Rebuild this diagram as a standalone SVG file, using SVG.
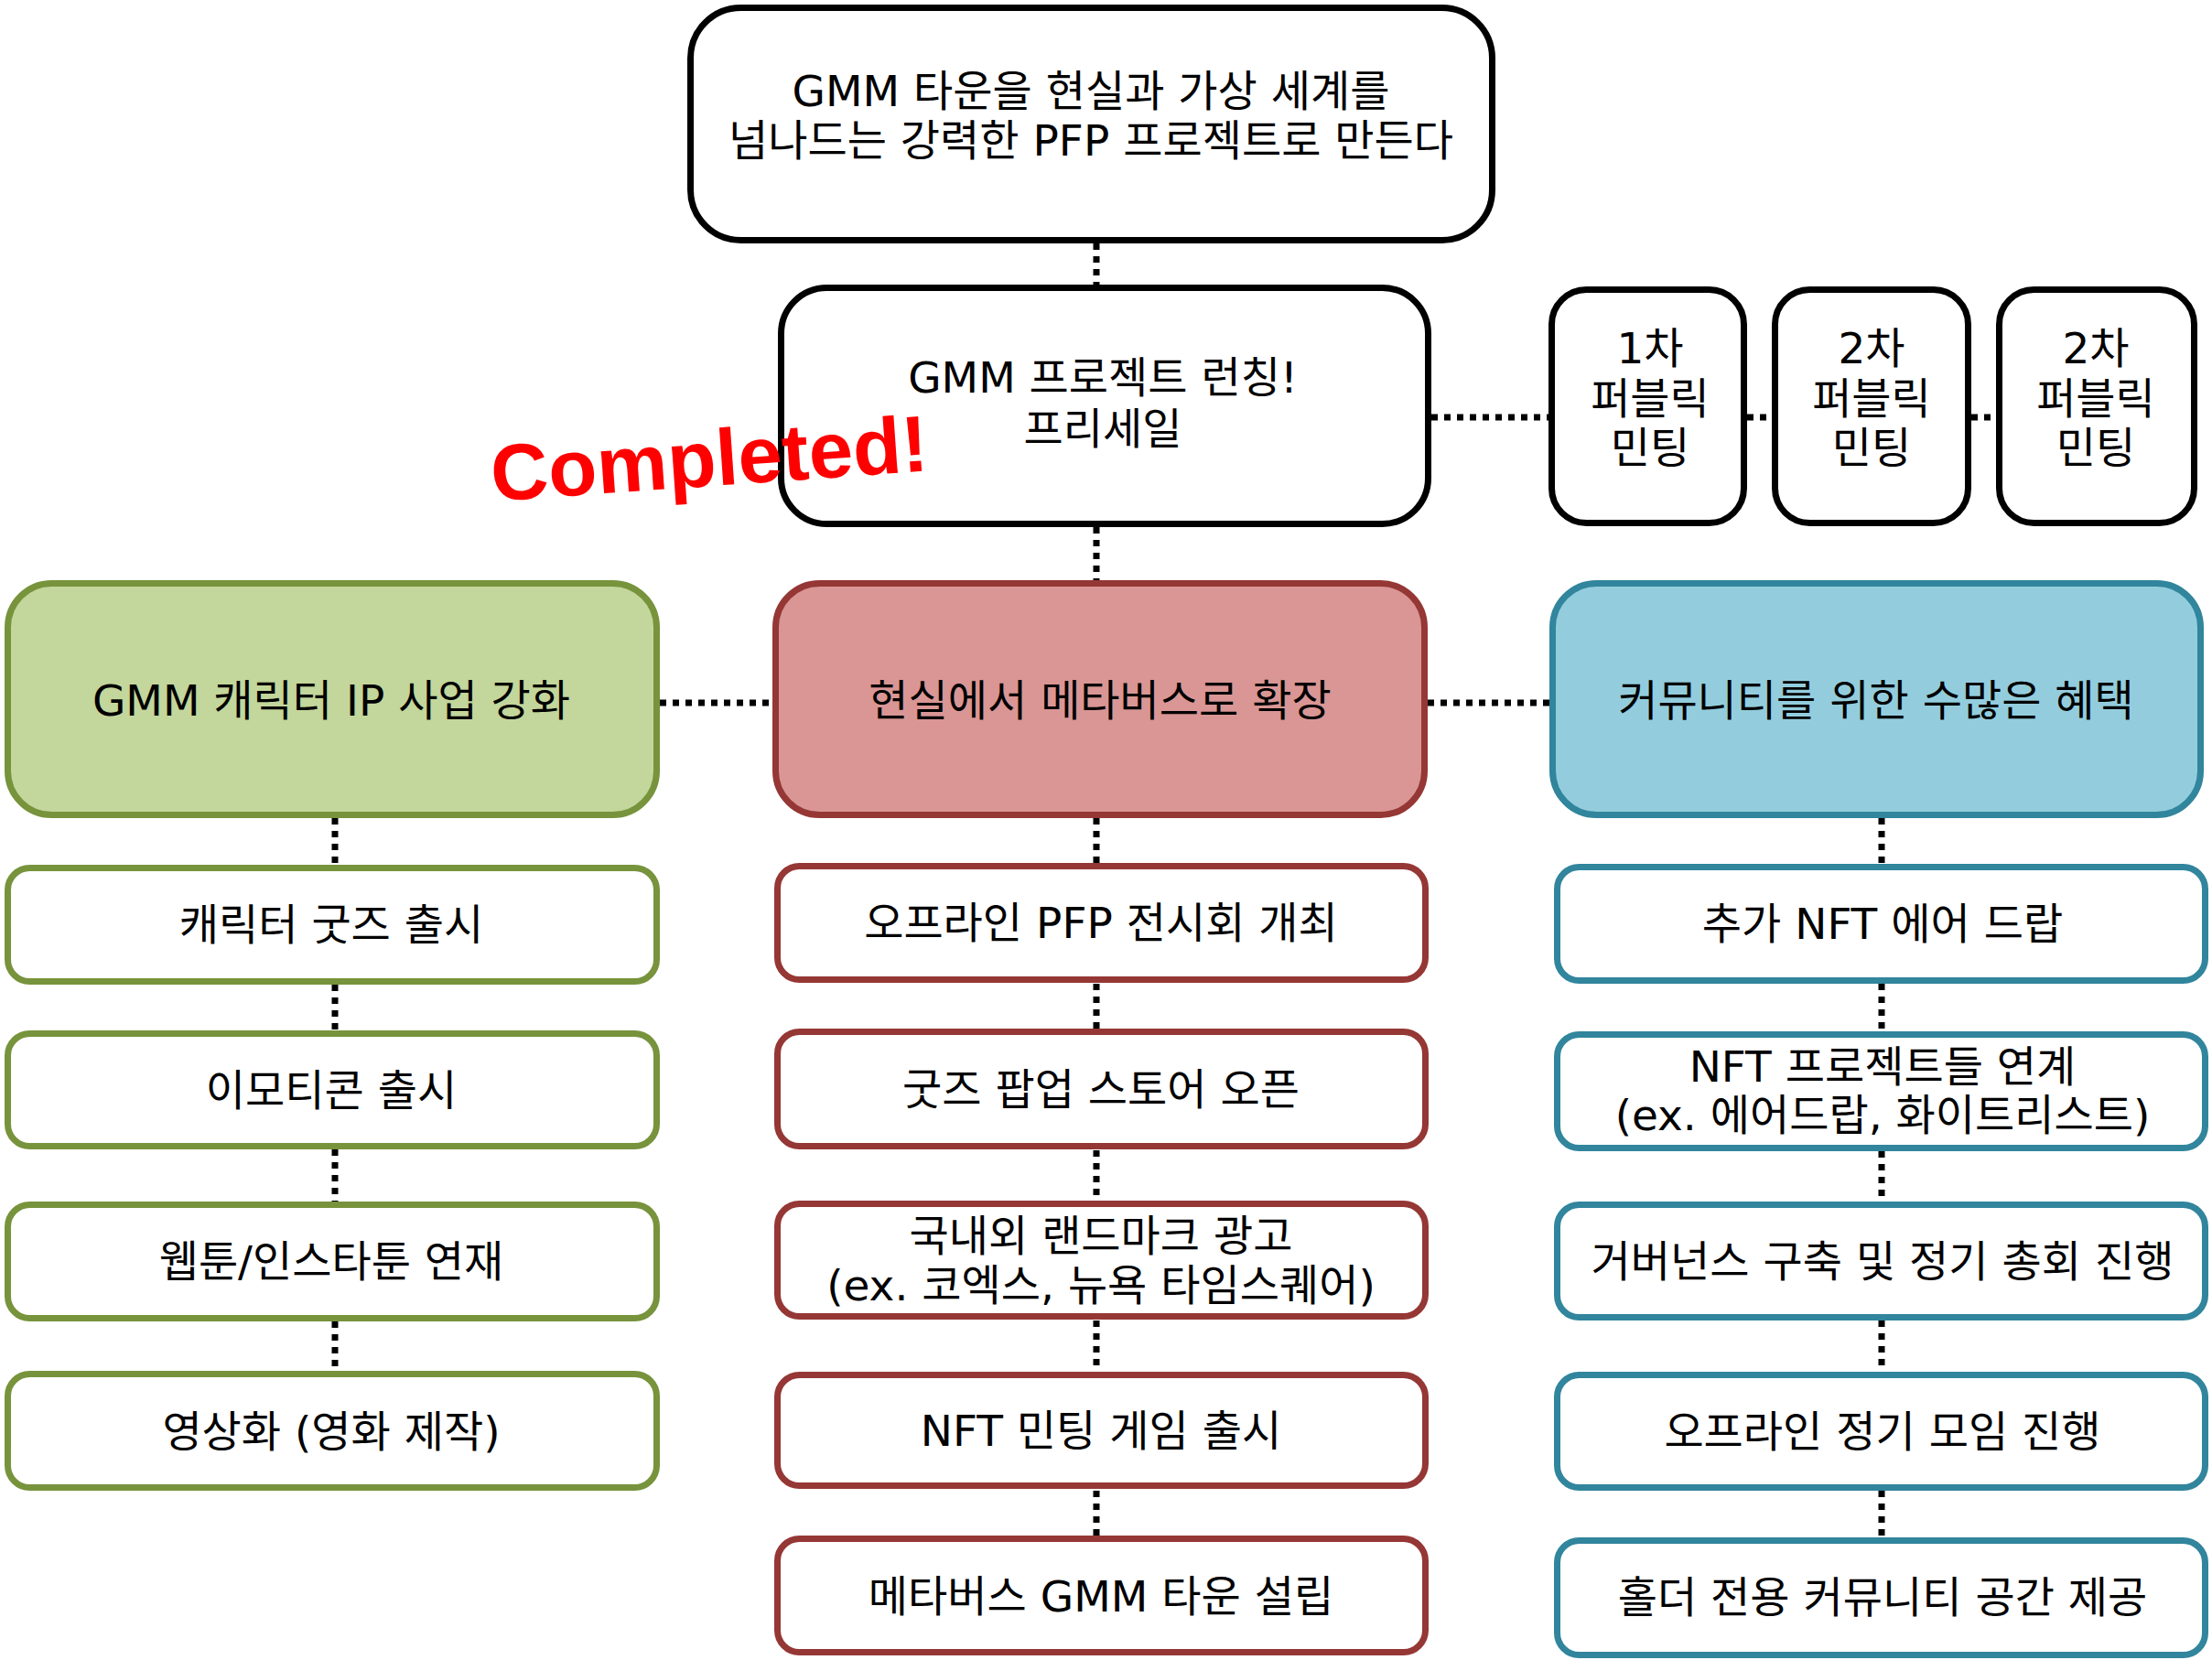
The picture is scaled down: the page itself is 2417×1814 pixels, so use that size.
<svg xmlns="http://www.w3.org/2000/svg" width="2417" height="1814" viewBox="0 0 2417 1814">
<style>
.t{font-family:"DejaVu Sans","Noto Sans CJK KR",sans-serif;font-size:47px;fill:#000;text-anchor:middle}
.bk{fill:#fff;stroke:#000;stroke-width:7}
.gm{fill:#C3D69B;stroke:#77933C;stroke-width:7}
.rm{fill:#D99694;stroke:#953735;stroke-width:7}
.bm{fill:#93CDDD;stroke:#31859C;stroke-width:7}
.gs{fill:#fff;stroke:#77933C;stroke-width:7}
.rs{fill:#fff;stroke:#953735;stroke-width:7}
.bs{fill:#fff;stroke:#31859C;stroke-width:7}
.c{fill:none;stroke:#000;stroke-width:7;stroke-dasharray:7 7}
.done{font-family:"Liberation Sans",Arial,sans-serif;font-weight:bold;font-size:87px;fill:#FF0000;text-anchor:middle}
</style>
<rect width="2417" height="1814" fill="#fff"/>
<g id="connectors">
<path class="c" d="M1198 266V311"/>
<path class="c" d="M1198 576V634"/>
<path class="c" d="M1198 894V943M1198 1075V1125M1198 1257V1312M1198 1443V1499M1198 1629V1678"/>
<path class="c" d="M366 894V945M366 1076V1126M366 1256V1313M366 1444V1498"/>
<path class="c" d="M2056 894V944M2056 1075V1127M2056 1258V1313M2056 1443V1499M2056 1629V1680"/>
<path class="c" d="M1564 456H1692M1909 456H1936M2154 456H2181"/>
<path class="c" d="M721 768H844M1560 768H1693"/>
</g>
<g id="n-vision"><rect class="bk" x="754.5" y="8.5" width="876" height="254" rx="55"/>
<text class="t" x="1192" y="116">GMM 타운을 현실과 가상 세계를</text>
<text class="t" x="1192" y="170">넘나드는 강력한 PFP 프로젝트로 만든다</text></g>
<g id="n-launch"><rect class="bk" x="853.5" y="314.5" width="707" height="258" rx="50"/>
<text class="t" x="1205" y="429">GMM 프로젝트 런칭!</text>
<text class="t" x="1205" y="485">프리세일</text></g>
<g id="n-mint1"><rect class="bk" x="1695.5" y="316.5" width="210" height="255" rx="38"/>
<text class="t" x="1803" y="397">1차</text><text class="t" x="1803" y="452">퍼블릭</text><text class="t" x="1803" y="506">민팅</text></g>
<g id="n-mint2"><rect class="bk" x="1939.5" y="316.5" width="211" height="255" rx="38"/>
<text class="t" x="2045" y="397">2차</text><text class="t" x="2045" y="452">퍼블릭</text><text class="t" x="2045" y="506">민팅</text></g>
<g id="n-mint3"><rect class="bk" x="2184.5" y="316.5" width="213" height="255" rx="38"/>
<text class="t" x="2290" y="397">2차</text><text class="t" x="2290" y="452">퍼블릭</text><text class="t" x="2290" y="506">민팅</text></g>
<g id="n-completed"><text class="done" x="777" y="531" transform="rotate(-4 777 531)">Completed!</text></g>
<g id="n-ip"><rect class="gm" x="8.5" y="637.5" width="709" height="253" rx="48"/>
<text class="t" x="362" y="782">GMM 캐릭터 IP 사업 강화</text></g>
<g id="n-meta"><rect class="rm" x="847.5" y="637.5" width="709" height="253" rx="48"/>
<text class="t" x="1202" y="782">현실에서 메타버스로 확장</text></g>
<g id="n-comm"><rect class="bm" x="1696.5" y="637.5" width="708" height="253" rx="48"/>
<text class="t" x="2050" y="782">커뮤니티를 위한 수많은 혜택</text></g>
<g id="n-g1"><rect class="gs" x="8.5" y="948.5" width="709" height="124" rx="24"/><text class="t" x="362" y="1027">캐릭터 굿즈 출시</text></g>
<g id="n-g2"><rect class="gs" x="8.5" y="1129.5" width="709" height="123" rx="24"/><text class="t" x="362" y="1208">이모티콘 출시</text></g>
<g id="n-g3"><rect class="gs" x="8.5" y="1316.5" width="709" height="124" rx="24"/><text class="t" x="362" y="1395">웹툰/인스타툰 연재</text></g>
<g id="n-g4"><rect class="gs" x="8.5" y="1501.5" width="709" height="124" rx="24"/><text class="t" x="362" y="1581">영상화 (영화 제작)</text></g>
<g id="n-r1"><rect class="rs" x="849.5" y="946.5" width="708" height="124" rx="24"/><text class="t" x="1203" y="1025">오프라인 PFP 전시회 개최</text></g>
<g id="n-r2"><rect class="rs" x="849.5" y="1127.5" width="708" height="125" rx="24"/><text class="t" x="1203" y="1207">굿즈 팝업 스토어 오픈</text></g>
<g id="n-r3"><rect class="rs" x="849.5" y="1315.5" width="708" height="123" rx="24"/><text class="t" x="1203" y="1367">국내외 랜드마크 광고</text><text class="t" x="1203" y="1421">(ex. 코엑스, 뉴욕 타임스퀘어)</text></g>
<g id="n-r4"><rect class="rs" x="849.5" y="1502.5" width="708" height="121" rx="24"/><text class="t" x="1203" y="1580">NFT 민팅 게임 출시</text></g>
<g id="n-r5"><rect class="rs" x="849.5" y="1681.5" width="708" height="124" rx="24"/><text class="t" x="1203" y="1761">메타버스 GMM 타운 설립</text></g>
<g id="n-b1"><rect class="bs" x="1701.5" y="947.5" width="708" height="124" rx="24"/><text class="t" x="2057" y="1026">추가 NFT 에어 드랍</text></g>
<g id="n-b2"><rect class="bs" x="1701.5" y="1130.5" width="708" height="124" rx="24"/><text class="t" x="2057" y="1182">NFT 프로젝트들 연계</text><text class="t" x="2057" y="1235">(ex. 에어드랍, 화이트리스트)</text></g>
<g id="n-b3"><rect class="bs" x="1701.5" y="1316.5" width="708" height="123" rx="24"/><text class="t" x="2057" y="1395">거버넌스 구축 및 정기 총회 진행</text></g>
<g id="n-b4"><rect class="bs" x="1701.5" y="1502.5" width="708" height="123" rx="24"/><text class="t" x="2057" y="1581">오프라인 정기 모임 진행</text></g>
<g id="n-b5"><rect class="bs" x="1701.5" y="1683.5" width="708" height="125" rx="24"/><text class="t" x="2057" y="1762">홀더 전용 커뮤니티 공간 제공</text></g>
</svg>
